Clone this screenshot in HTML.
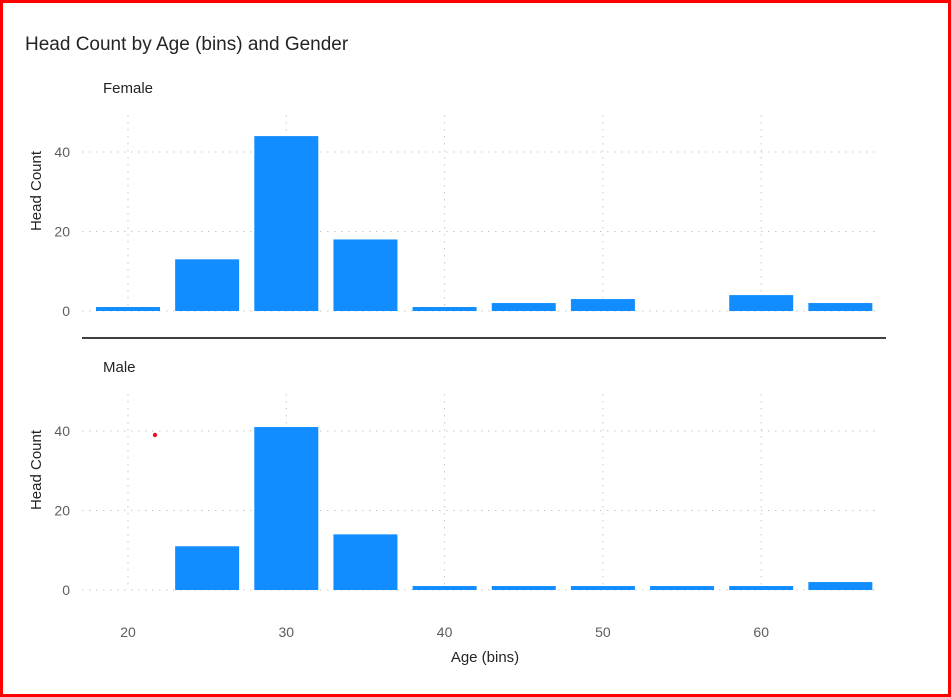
<!DOCTYPE html>
<html><head><meta charset="utf-8"><style>
html,body{margin:0;padding:0;background:#fff;}
svg{display:block;font-family:"Liberation Sans",sans-serif;}
</style></head><body>
<svg id="chart" width="951" height="697" viewBox="0 0 951 697">
<rect x="1.5" y="1.5" width="948" height="694" fill="#fff" stroke="#f00" stroke-width="3"/>
<text x="25" y="50" font-size="19" fill="#252423">Head Count by Age (bins) and Gender</text>
<line x1="82" y1="338" x2="886" y2="338" stroke="#000" stroke-width="1.5"/>
<text x="485" y="662" font-size="15" fill="#252423" text-anchor="middle">Age (bins)</text>
<g id="panels"></g>
<circle cx="155" cy="435" r="2.2" fill="#e81123"/>
</svg>
<script>
const categories=[20,25,30,35,40,45,50,55,60,65];
const femaleValues=[1,13,44,18,1,2,3,0,4,2];
const maleValues=[0,11,41,14,1,1,1,1,1,2];
const yTicks=[0,20,40];
const xTicks=[20,30,40,50,60];
const panelNames=["Female","Male"];
const NS="http://www.w3.org/2000/svg";
const g=document.getElementById('panels');
function xs(v){return 128+(v-20)*15.83;}
function mk(t,a,p){const e=document.createElementNS(NS,t);for(const k in a)e.setAttribute(k,a[k]);(p||g).appendChild(e);return e;}
const panels=[{name:panelNames[0],vals:femaleValues,y0:311},{name:panelNames[1],vals:maleValues,y0:590}];
panels.forEach((p,pi)=>{
  const ys=v=>p.y0-v*3.975;
  const grp=mk('g',{});
  
  
  const lab=mk('text',{x:103,y:p.y0-218,'font-size':15,fill:'#252423'},grp);lab.textContent=p.name;
  
  
  xTicks.forEach(t=>{const l=mk('line',{x1:xs(t),x2:xs(t),y1:p.y0-196,y2:p.y0-4,stroke:'#c8c8c8','stroke-dasharray':'1.5 5.5'},grp);
    
    });
  yTicks.forEach(t=>{const l=mk('line',{x1:82,x2:875,y1:ys(t),y2:ys(t),stroke:'#c8c8c8','stroke-dasharray':'1.5 5.5'},grp);
    
    
    const tx=mk('text',{x:70,y:ys(t)+5,'font-size':14,fill:'#605e5c','text-anchor':'end'},grp);tx.textContent=t;
    
    });
  const yt=mk('text',{x:0,y:0,'font-size':15,fill:'#252423','text-anchor':'middle',transform:`translate(41,${p.y0-120}) rotate(-90)`},grp);yt.textContent='Head Count';
  
  
  categories.forEach((c,i)=>{const v=p.vals[i];if(v<=0)return;
    const r=mk('rect',{x:xs(c)-32,width:64,y:ys(v),height:p.y0-ys(v),fill:'#118dff'},grp);
    
    });
});
xTicks.forEach(t=>{const tx=mk('text',{x:xs(t),y:637,'font-size':14,fill:'#605e5c','text-anchor':'middle'});tx.textContent=t;
  
  });
</script>
</body></html>
